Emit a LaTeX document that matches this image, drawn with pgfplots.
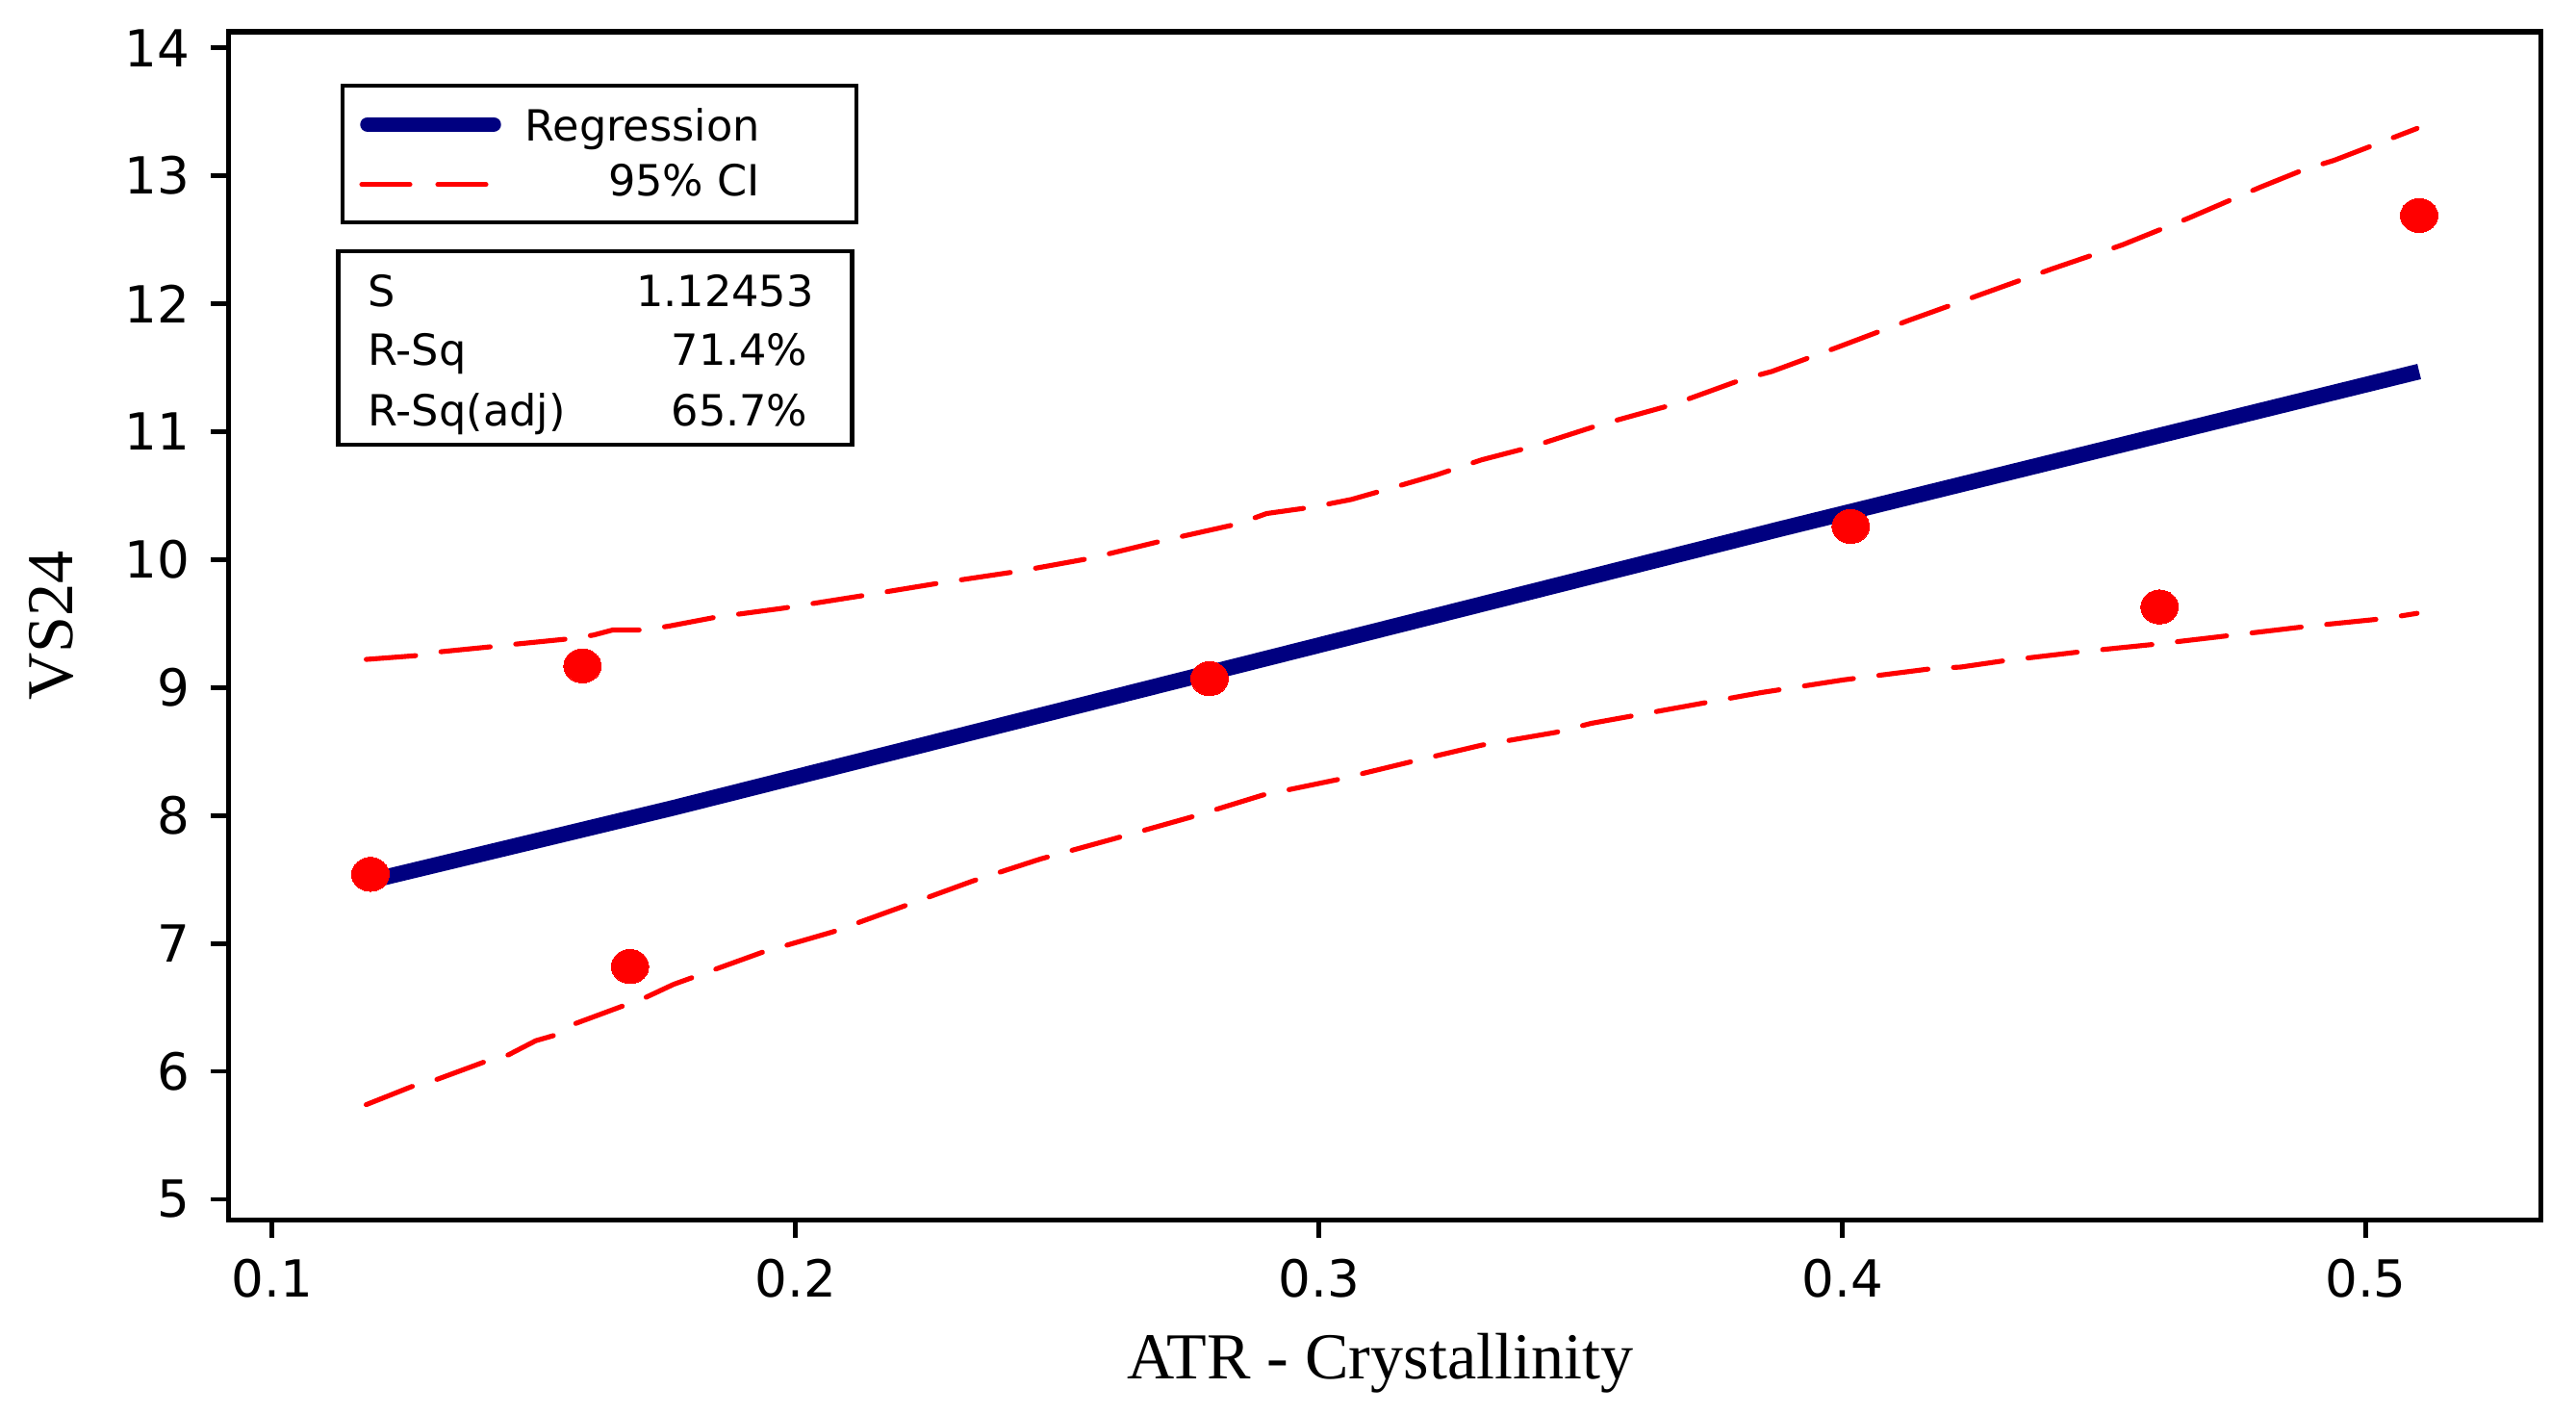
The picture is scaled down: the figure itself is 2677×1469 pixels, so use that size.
\documentclass[border=0pt]{standalone}
\usepackage{pgfplots}
\usepackage{pgfplotstable}
\pgfplotsset{compat=1.18}
\usepackage{fontspec}
\setmainfont{DejaVu Sans}
\newfontfamily\seriffont{Liberation Serif}
\definecolor{regblue}{RGB}{0,0,128}
\definecolor{cired}{RGB}{255,0,0}

\pgfplotstableread{
x y
0.1180 9.22
0.1277 9.25
0.1323 9.28
0.1421 9.32
0.1467 9.34
0.1565 9.38
0.1614 9.41
0.1651 9.45
0.1709 9.45
0.1758 9.48
0.1848 9.55
0.1976 9.62
0.2131 9.72
0.2280 9.82
0.2428 9.91
0.2563 10.01
0.2704 10.15
0.2846 10.28
0.2900 10.36
0.2987 10.41
0.3062 10.47
0.3122 10.54
0.3223 10.66
0.3311 10.78
0.3405 10.88
0.3534 11.05
0.3675 11.21
0.3810 11.41
0.3865 11.47
0.3991 11.66
0.4127 11.87
0.4263 12.07
0.4399 12.27
0.4535 12.46
0.4662 12.67
0.4798 12.91
0.4883 13.05
0.4939 13.12
0.5098 13.37
}\upperci

\pgfplotstableread{
x y
0.1180 5.74
0.1266 5.88
0.1317 5.94
0.1403 6.07
0.1452 6.13
0.1504 6.24
0.1538 6.28
0.1577 6.37
0.1676 6.52
0.1715 6.58
0.1767 6.68
0.1936 6.93
0.2071 7.09
0.2206 7.29
0.2340 7.49
0.2468 7.66
0.2610 7.82
0.2758 7.99
0.2893 8.16
0.3035 8.28
0.3176 8.42
0.3311 8.55
0.3453 8.65
0.3520 8.72
0.3601 8.78
0.3736 8.88
0.3844 8.96
0.4002 9.06
0.4175 9.15
0.4226 9.16
0.4310 9.21
0.4456 9.28
0.4601 9.34
0.4747 9.41
0.4892 9.48
0.5037 9.54
0.5098 9.58
}\lowerci

\pgfplotstableread{
x y
0.1188 7.49
0.1767 8.06
0.3882 10.24
0.5102 11.47
}\regline

\pgfplotstableread{
x y
0.1188 7.54
0.1593 9.17
0.1684 6.82
0.2791 9.07
0.4016 10.26
0.4606 9.63
0.5102 12.69
}\obs

\begin{document}
\begin{tikzpicture}
\begin{axis}[
  at={(0,0)}, anchor=south west,
  scale only axis, width=140.0mm, height=71.94mm,
  xmin=0.09173, xmax=0.5334, ymin=4.838, ymax=14.126,
  axis line style={line width=0.85pt},
  tick align=outside, major tick length=1.1mm,
  tick style={line width=0.8pt, black},
  xtick={0.1,0.2,0.3,0.4,0.5}, ytick={5,6,...,14},
  xtick pos=bottom, ytick pos=left,
  /pgf/number format/assume math mode=true,
  ticklabel style={font=\fontsize{8.8}{10}\selectfont},
  xticklabel style={/pgf/number format/fixed, /pgf/number format/precision=1},
  xlabel={ATR - Crystallinity}, ylabel={VS24},
  label style={font=\seriffont\fontsize{11.3}{13}\selectfont},
  xlabel style={at={(axis description cs:0.498,-0.1333)}, anchor=base, inner sep=0pt},
  ylabel style={at={(axis description cs:-0.0677,0.5)}, anchor=base, inner sep=0pt},
]
\addplot[cired, line width=0.85pt, dash pattern=on 3.0mm off 1.55mm, line cap=round, line join=round] table[x=x,y=y] {\upperci};
\addplot[cired, line width=0.85pt, dash pattern=on 3.0mm off 1.55mm, line cap=round, line join=round] table[x=x,y=y] {\lowerci};
\addplot[regblue, line width=0.95mm] table[x=x,y=y] {\regline};
\addplot[only marks, color=cired, mark=*, mark size=1.03mm, mark options={xscale=1.1, fill=cired, draw=cired, line width=0pt, solid}] table[x=x,y=y] {\obs};
\end{axis}
\begin{scope}[shift={(-13.852mm,73.862mm)}, x=0.058274mm, y=-0.058274mm]
  \path (0,0) rectangle (2677,1469);
  % legend box
  \draw[line width=0.8pt] (356,89) rectangle (890,231);
  \draw[regblue, line width=0.9mm, line cap=round] (382,129.3) -- (513,129.3);
  \draw[cired, line width=0.85pt, line cap=round] (376,191.7) -- (426,191.7);
  \draw[cired, line width=0.85pt, line cap=round] (455,191.7) -- (505,191.7);
  \node[anchor=base east, inner sep=0pt, font=\fontsize{7.4}{9}\selectfont] at (791,146.7) {Regression};
  \node[anchor=base east, inner sep=0pt, font=\fontsize{7.4}{9}\selectfont] at (791,203.3) {95\% CI};
  % stats box
  \draw[line width=0.8pt] (351.4,261) rectangle (885.2,462);
  \begin{scope}[every node/.style={inner sep=0pt, font=\fontsize{7.4}{9}\selectfont}]
  \node[anchor=base west] at (381.4,318.3) {S};
  \node[anchor=base east] at (847,318.3) {1.12453};
  \node[anchor=base west] at (381.4,380) {R-Sq};
  \node[anchor=base east] at (840.6,380) {71.4\%};
  \node[anchor=base west] at (381.4,442.7) {R-Sq(adj)};
  \node[anchor=base east] at (840.6,442.7) {65.7\%};
  \end{scope}
\end{scope}
\end{tikzpicture}
\end{document}
